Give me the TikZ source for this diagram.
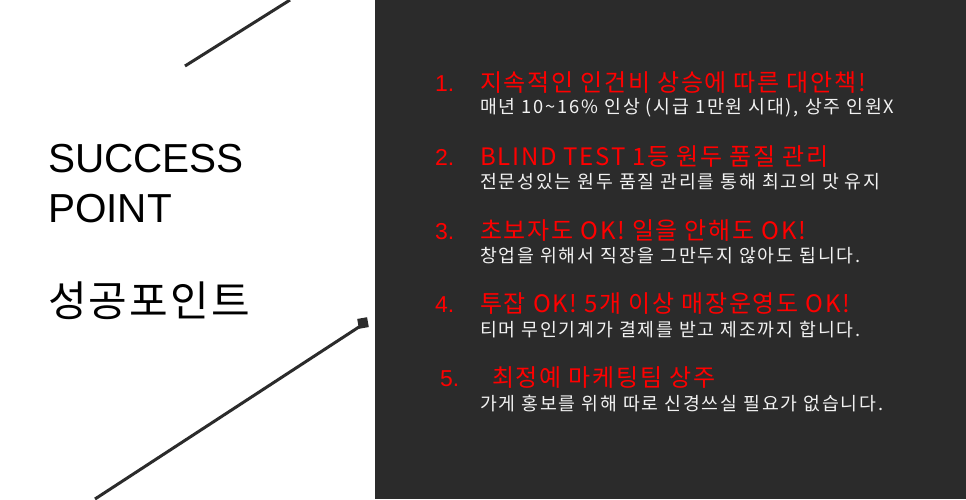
\documentclass[tikz,border=0pt]{standalone}
\usepackage{fontspec}
\setmainfont{Noto Sans CJK KR}
\newfontfamily\lat{Liberation Sans}
\newfontfamily\tfont[LetterSpace=7]{Noto Sans CJK KR}
\newfontfamily\sfont[LetterSpace=10]{Noto Sans CJK KR}
\newfontfamily\bfont[LetterSpace=5]{Noto Sans CJK KR}
\definecolor{dk}{HTML}{2B2B2B}
\definecolor{rd}{HTML}{FF0000}
\definecolor{wt}{HTML}{F2F2F2}
\begin{document}
\begin{tikzpicture}[x=1pt,y=-1pt,
  ttl/.style={anchor=base west,inner sep=0,text=rd,font=\tfont\fontsize{24}{26}\selectfont},
  sub/.style={anchor=base west,inner sep=0,text=wt,font=\sfont\fontsize{18.3}{19}\selectfont},
  big/.style={anchor=base west,inner sep=0,text=black,font=\bfont\fontsize{42}{44}\selectfont}]
\useasboundingbox (0,0) rectangle (966,499);
\fill[white] (0,0) rectangle (375,499);
\fill[dk] (375,0) rectangle (966,499);
\coordinate (t1) at (185,66); \coordinate (t2) at (290,0);
\draw[dk,line width=3pt] (t1) -- (t2);
\coordinate (b1) at (95,499); \coordinate (b2) at (362,325);
\draw[dk,line width=3pt] (b1) -- (b2);
\node[fill=dk,minimum size=10pt,inner sep=0,rotate=10] (sq) at (363,323) {};
\node[big,font=\lat\fontsize{40.5}{44}\selectfont] (s1) at (48,172) {SUCCESS};
\node[big,font=\lat\fontsize{40.5}{44}\selectfont] (s2) at (48,222) {POINT};
\node[big] (s3) at (48,316) {성공포인트};
\node[ttl,font=\lat\fontsize{23}{26}\selectfont] (n1) at (435,91) {1.}; \node[ttl] (a1) at (480,91) {지속적인 인건비 상승에 따른 대안책!};
\node[sub] (b1t) at (480,113) {매년 10\textasciitilde16\% 인상 (시급 1만원 시대), 상주 인원X};
\node[ttl,font=\lat\fontsize{23}{26}\selectfont] (n2) at (435,165) {2.}; \node[ttl] (a2) at (480,165) {BLIND TEST 1등 원두 품질 관리};
\node[sub] (b2t) at (480,188) {전문성있는 원두 품질 관리를 통해 최고의 맛 유지};
\node[ttl,font=\lat\fontsize{23}{26}\selectfont] (n3) at (435,239) {3.}; \node[ttl] (a3) at (480,239) {초보자도 OK! 일을 안해도 OK!};
\node[sub] (b3t) at (480,262) {창업을 위해서 직장을 그만두지 않아도 됩니다.};
\node[ttl,font=\lat\fontsize{23}{26}\selectfont] (n4) at (435,312) {4.}; \node[ttl] (a4) at (480,312) {투잡 OK! 5개 이상 매장운영도 OK!};
\node[sub] (b4t) at (480,336) {티머 무인기계가 결제를 받고 제조까지 합니다.};
\node[ttl,font=\lat\fontsize{23}{26}\selectfont] (n5) at (440,386) {5.}; \node[ttl] (a5) at (492,386) {최정예 마케팅팀 상주};
\node[sub] (b5t) at (480,410) {가게 홍보를 위해 따로 신경쓰실 필요가 없습니다.};
\end{tikzpicture}
\end{document}
